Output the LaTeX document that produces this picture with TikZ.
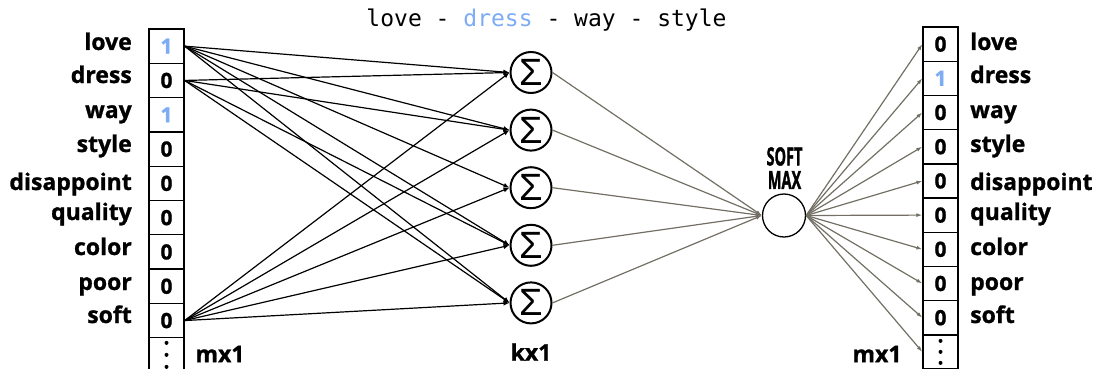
\documentclass[tikz,border=0pt]{standalone}
\usepackage{graphicx}
\usepackage{fontspec}
\setmainfont{Open Sans}[BoldFeatures={FakeBold=1}]
\newfontfamily\monofont{DejaVu Sans Mono}
\newfontfamily\sigfont{Liberation Sans}
\newfontfamily\smfont{Open Sans}[BoldFeatures={FakeBold=1.8}]
\usetikzlibrary{arrows.meta}
\definecolor{hiblue}{RGB}{125,172,245}
\definecolor{arrgray}{RGB}{115,111,100}
\newcommand\bluetxt[1]{\textcolor{hiblue}{#1}}
\newcommand\smtxt[1]{\scalebox{0.58}[1]{\smfont\bfseries\fontsize{25}{25}\selectfont #1}}
\begin{document}
\begin{tikzpicture}[x=1pt,y=-1pt,
  cell/.style={draw, line width=1.3pt, minimum width=35pt, minimum height=34.3pt, inner sep=0pt,
    font=\fontsize{21}{21}\selectfont\bfseries},
  wlabel/.style={font=\fontsize{23}{23}\selectfont\bfseries, inner sep=0pt},
  sumnode/.style={circle, draw, line width=2pt, minimum size=41pt, inner sep=0pt,
    font=\sigfont\fontsize{38}{38}\selectfont},
  smnode/.style={circle, draw, line width=1.3pt, minimum size=43pt, inner sep=0pt},
  inarrow/.style={-{Latex[length=6pt,width=5pt]}, line width=1.2pt, black},
  outarrow/.style={-{Latex[length=6pt,width=4pt]}, line width=1.2pt, arrgray},
]
\useasboundingbox (0,0) rectangle (1099,369);

% title
\node[font=\monofont\fontsize{23}{23}\selectfont, anchor=base, inner sep=0pt, text=black] (title) at (546.5,27)
  {love - \bluetxt{dress} - way - style};

% left vector
\foreach \i/\v/\w/\b in {1/\bluetxt{1}/love/50, 2/0/dress/83, 3/\bluetxt{1}/way/118, 4/0/style/152,
  5/0/disappoint/190, 6/0/quality/220, 7/0/color/255, 8/0/poor/290, 9/0/soft/323}{
  \node[cell] (L\i) at (166.5, {29+34.3*(\i-1)+17.15}) {\v};
  \node[wlabel, anchor=base east] (LW\i) at (132, \b) {\w};
}
\node[cell] (L10) at (166.5, {29+34.3*9+17.15}) {};
\foreach \d in {-12,0,12}{\fill (L10.center) ++(0,\d) circle (2pt);}
\node[wlabel] (mxl) at (220,354) {mx1};

% right vector
\foreach \i/\v/\w/\b in {1/0/love/50, 2/\bluetxt{1}/dress/83, 3/0/way/118, 4/0/style/152,
  5/0/disappoint/190, 6/0/quality/220, 7/0/color/255, 8/0/poor/290, 9/0/soft/323}{
  \node[cell] (R\i) at (940.5, {27+34.2*(\i-1)+17.1}) {\v};
  \node[wlabel, anchor=base west] (RW\i) at (970, \b) {\w};
}
\node[cell] (R10) at (940.5, {27+34.2*9+17.1}) {};
\foreach \d in {-11,0,11}{\fill (R10.center) ++(0,\d) circle (2pt);}
\node[wlabel] (mxr) at (877,354) {mx1};

% sigma nodes
\foreach \k in {1,...,5}{
  \node[sumnode] (S\k) at (531, {72.5+57.6*(\k-1)}) {Σ};
}
\node[wlabel] (kx) at (531,352) {kx1};

% softmax
\node[smnode] (SM) at (784,215.5) {};
\node[inner sep=0pt] (SMlab1) at (784.5,156.5) {\smtxt{SOFT}};
\node[inner sep=0pt] (SMlab2) at (784.5,180) {\smtxt{MAX}};

% input connections
\foreach \k in {1,...,5}{\draw[inarrow] (L1.east) -- (S\k.west);}
\foreach \k in {1,2,4,5}{\draw[inarrow] (L2.east) -- (S\k.west);}
\foreach \k in {1,...,5}{\draw[inarrow] (L9.east) -- (S\k.west);}

% hidden to softmax
\foreach \k in {1,...,5}{\draw[outarrow] (S\k.east) -- (SM.west);}

% softmax to output
\foreach \i in {1,...,10}{\draw[outarrow] (SM.east) -- (R\i.west);}
\end{tikzpicture}
\end{document}
